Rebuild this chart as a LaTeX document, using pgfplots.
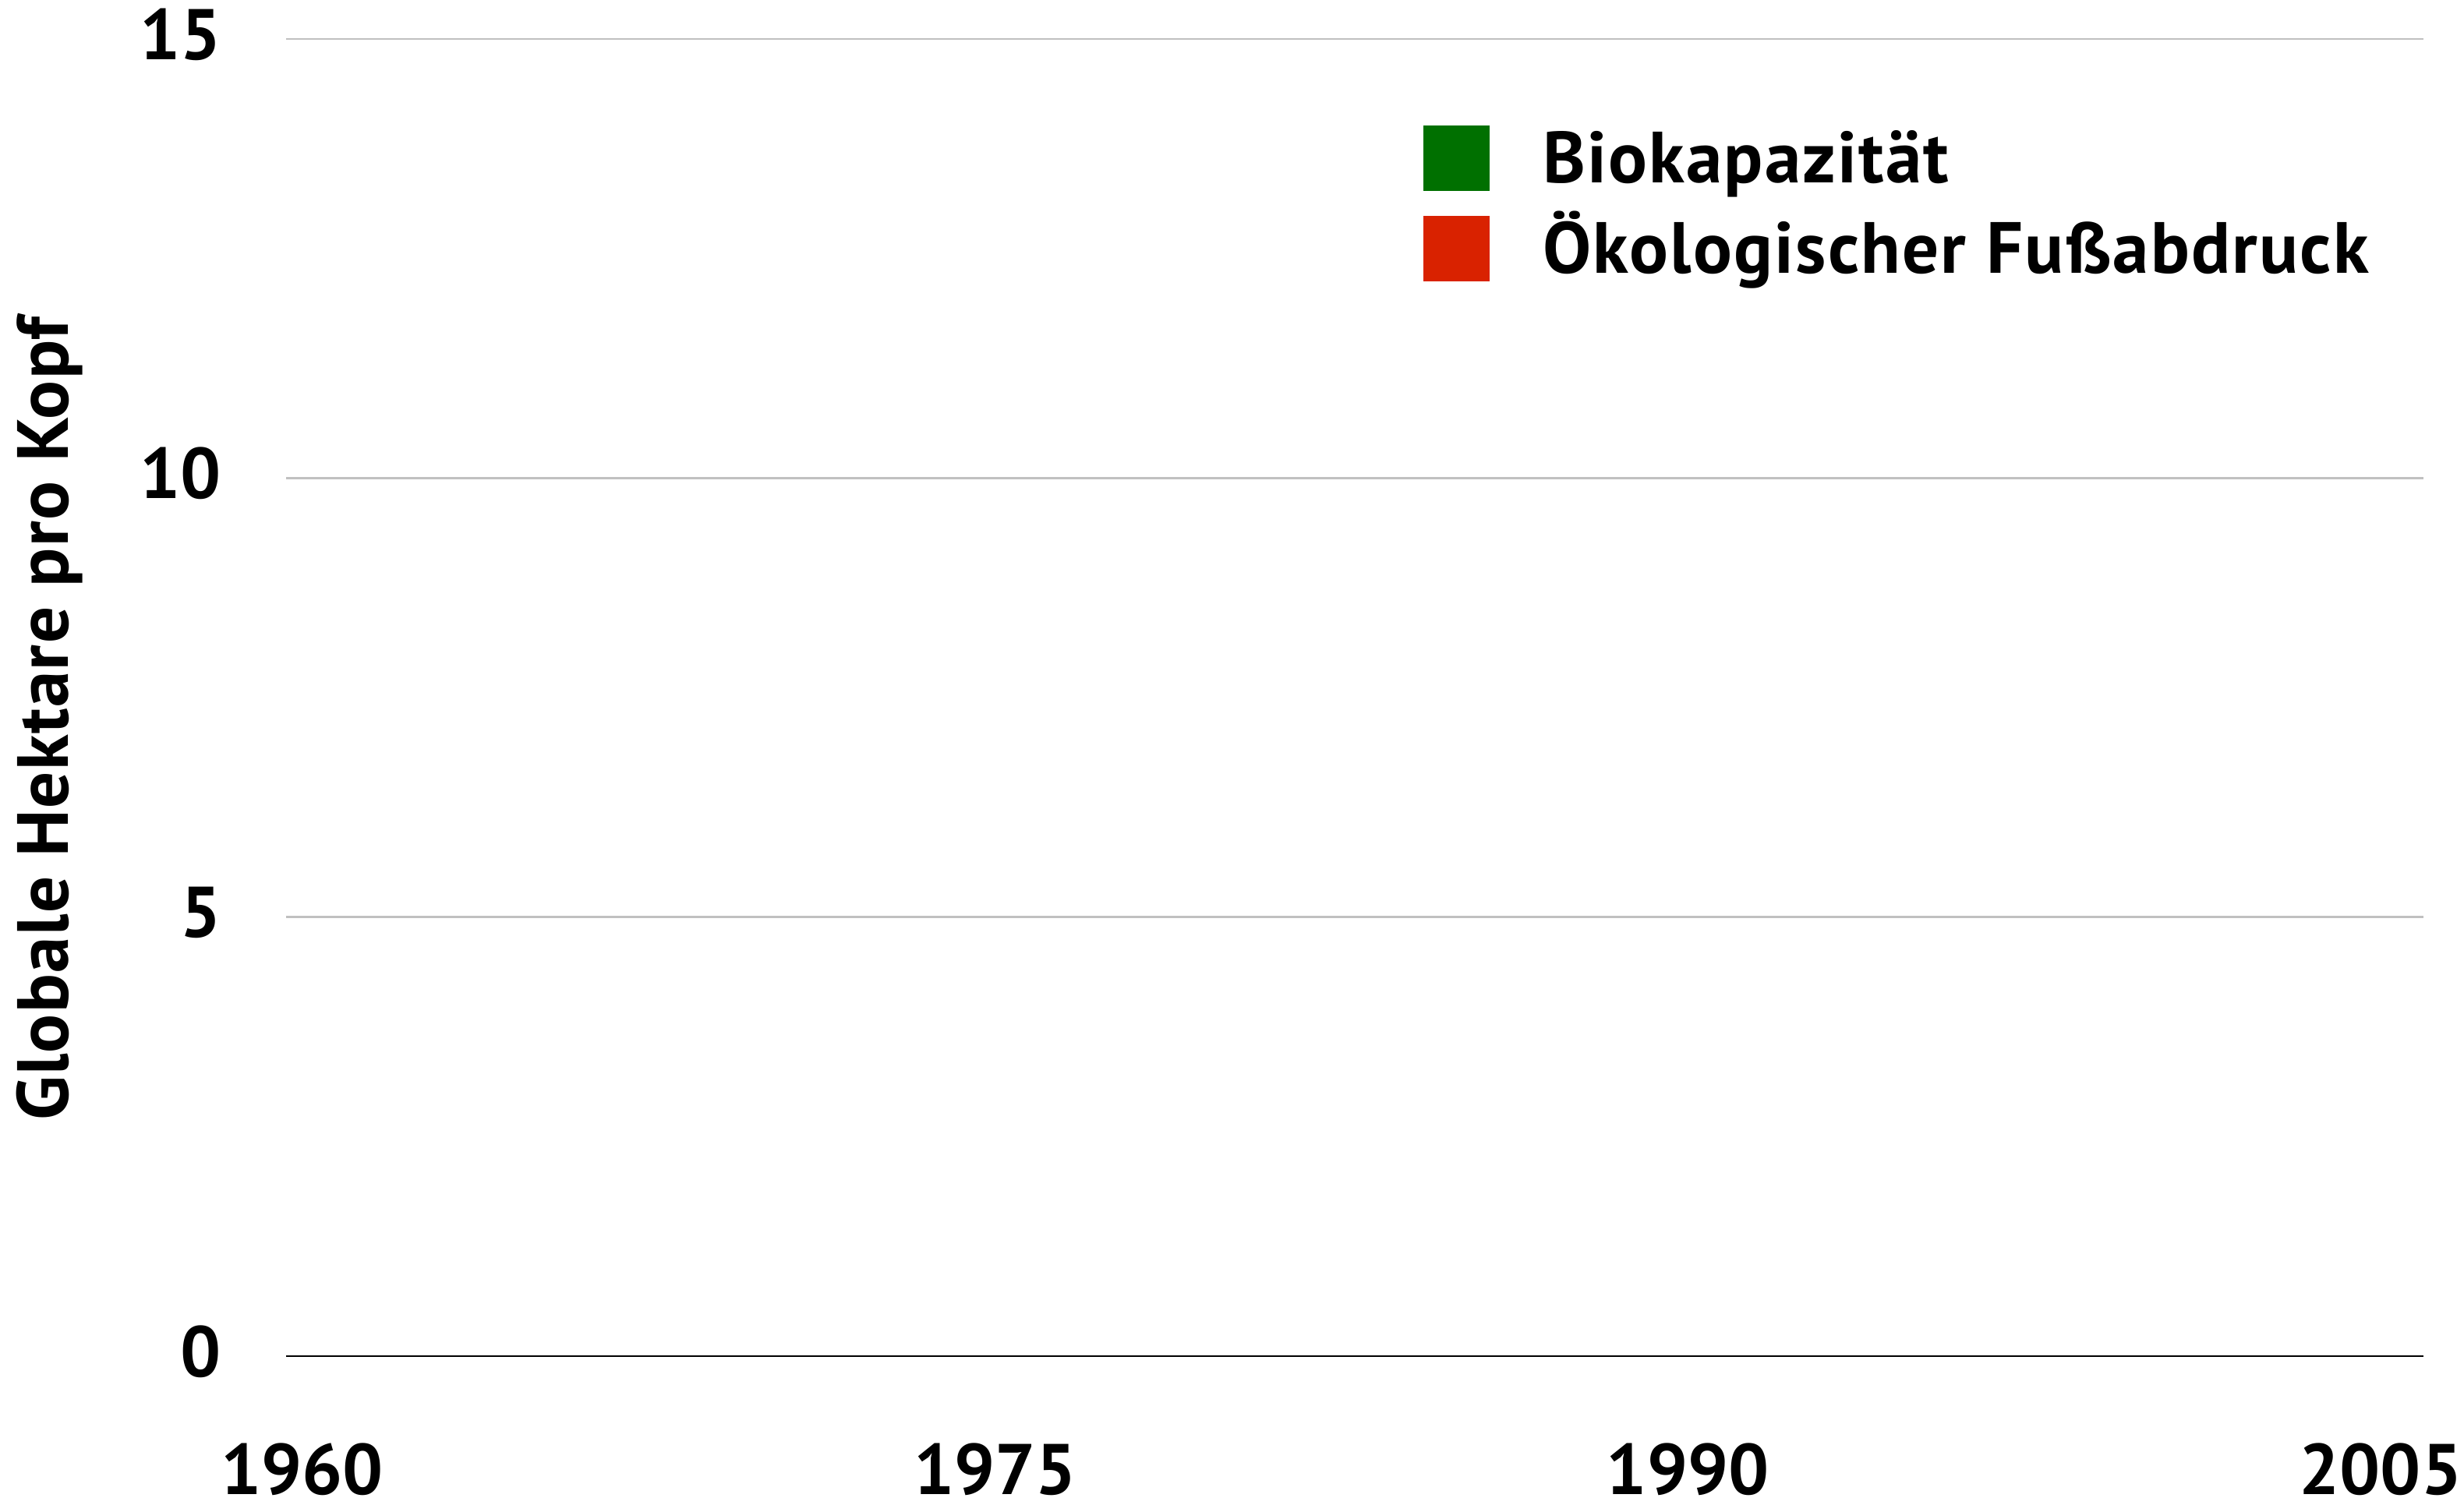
\documentclass[border=0pt]{standalone}
\usepackage{fontspec}
\setmainfont{PT Sans}
\usepackage{pgfplots}
\pgfplotsset{compat=1.18}
\definecolor{bkgreen}{RGB}{0,112,0}
\definecolor{fpred}{RGB}{217,34,0}
\definecolor{gridgray}{RGB}{192,192,192}
\pgfplotsset{
  sqgreen/.style={legend image code/.code={\fill[bkgreen] (0pt,-0.9pt) rectangle (8.1pt,7.1pt);}},
  sqred/.style={legend image code/.code={\fill[fpred] (0pt,-0.9pt) rectangle (8.1pt,7.1pt);}},
}
\begin{document}
\fontsize{9.3pt}{11pt}\selectfont\bfseries
\begin{tikzpicture}
\path[use as bounding box] (-36.7pt,-19.0pt) rectangle (279.4pt,174.0pt);
\begin{axis}[
  at={(0pt,0pt)}, anchor=south west,
  scale only axis, width=274.2pt, height=169.0pt,
  xmin=1959.65, xmax=2005.93, ymin=0, ymax=15,
  xtick={1960,1975,1990,2005}, ytick={0,5,10,15},
  xticklabels={1960,1975,1990,2005},
  yticklabels={0,5,10,15},
  axis lines=left,
  axis line style={-},
  x axis line style={black, line width=0.27pt},
  y axis line style={draw=none},
  major tick length=0pt,
  tick style={draw=none},
  ymajorgrids,
  grid style={gridgray, line width=0.27pt},
  tick label style={font=\fontsize{9.2pt}{11pt}\selectfont\bfseries},
  xticklabel style={anchor=north, inner sep=0pt, yshift=-11.0pt},
  yticklabel style={anchor=east, inner sep=0pt, xshift=-8.1pt, yshift=0.6pt},
  ylabel={Globale Hektare pro Kopf},
  ylabel style={at={(axis description cs:-0.1021,0.484)}, anchor=base, inner sep=0pt,
    font=\fontsize{9.3pt}{11pt}\selectfont\bfseries\addfontfeatures{LetterSpace=1.6}},
  legend style={at={(axis description cs:0.5321,0.9343)}, anchor=north west,
    draw=none, fill=none, inner sep=0pt, outer sep=0pt,
    column sep=6.8pt, row sep=2.5pt,
    font=\fontsize{9.3pt}{11pt}\selectfont\bfseries\addfontfeatures{LetterSpace=2.4},
    nodes={inner sep=0pt, anchor=base west, text height=7.1pt, text depth=1.8pt}},
]
\addlegendimage{sqgreen}
\addlegendentry{Biokapazität}
\addlegendimage{sqred}
\addlegendentry{Ökologischer Fußabdruck}
\end{axis}
\end{tikzpicture}
\end{document}
